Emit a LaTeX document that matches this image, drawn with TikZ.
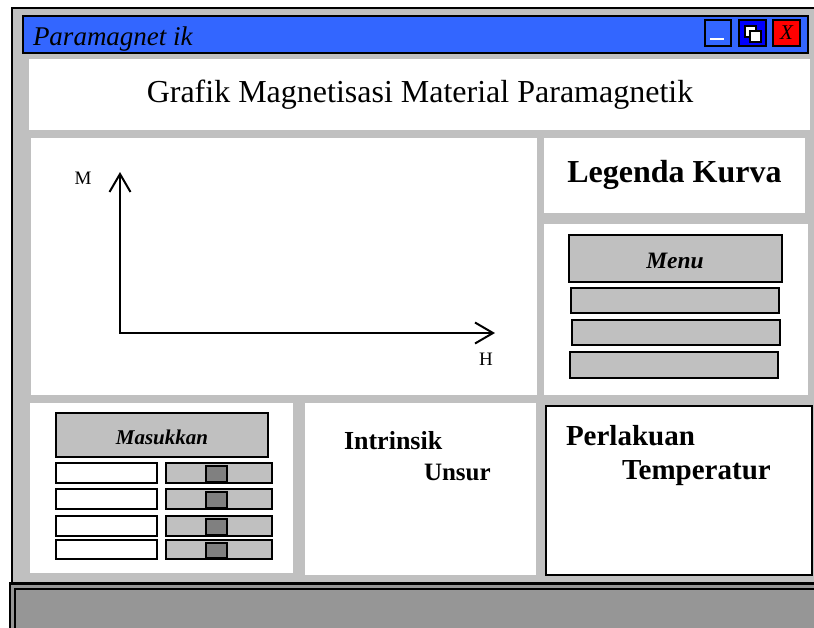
\documentclass[tikz,border=0pt]{standalone}
\usepackage{fontspec}
\setmainfont{Liberation Serif}
\usetikzlibrary{arrows.meta}
\definecolor{wingray}{HTML}{C0C0C0}
\definecolor{bargray}{HTML}{969696}
\definecolor{thumbgray}{HTML}{808080}
\definecolor{titleblue}{HTML}{3366FF}
\definecolor{pureblue}{HTML}{0000FF}
\definecolor{closered}{HTML}{FF0000}
\tikzset{
  panel/.style={fill=white,draw=none},
  btn/.style={fill=wingray,draw=black,line width=1.6pt},
  field/.style={fill=white,draw=black,line width=1.6pt},
  slider/.style={fill=wingray,draw=black,line width=1.6pt},
  thumb/.style={fill=thumbgray,draw=black,line width=1.4pt},
  axis/.style={line width=2pt,-{Straight Barb[length=18pt,width=21pt,line width=2pt]}},
  txt/.style={inner sep=0pt,outer sep=0pt},
}
\begin{document}
\begin{tikzpicture}[x=1pt,y=-1pt]
\useasboundingbox (0,0) rectangle (814,627);
\fill[white] (0,0) rectangle (814,627);
% window
\draw[fill=wingray,line width=2pt] (12,8) rectangle (830,640);
% title bar
\draw[fill=titleblue,line width=2pt] (23,16) rectangle (808,53);
\node[txt,anchor=base west] (wtitle) at (33,45) {\fontsize{27}{30}\selectfont\itshape Paramagnet ik};
% buttons
\draw[fill=titleblue,line width=1.6pt] (705,20) rectangle (731,46);
\draw[white,line width=2.2pt] (710,39) -- (724,39);
\draw[fill=pureblue,line width=1.6pt] (739,20) rectangle (766,46);
\draw[fill=white,line width=1.4pt] (745,26) rectangle (756,37);
\draw[fill=white,line width=1.4pt] (750,31) rectangle (761,42);
\draw[fill=closered,line width=1.6pt] (773,20) rectangle (800,46);
\node[txt] (xbtn) at (786.5,33) {\fontsize{21}{24}\selectfont\itshape X};
% header box
\fill[panel] (29,59) rectangle (810,130);
\node[txt,anchor=base] (header) at (420,102) {\fontsize{32}{36}\selectfont Grafik Magnetisasi Material Paramagnetik};
% graph panel
\fill[panel] (31,138) rectangle (537,395);
\coordinate (origin) at (120,333);
\coordinate (ytop) at (120,172);
\coordinate (xend) at (495,333);
\draw[axis] (origin) -- (ytop);
\draw[axis,line cap=rect] (origin) -- (xend);
\node[txt] (mlab) at (83,178) {\fontsize{19}{22}\selectfont M};
\node[txt] (hlab) at (486,359) {\fontsize{19}{22}\selectfont H};
% legend box
\fill[panel] (544,138) rectangle (805,213);
\node[txt,anchor=base] (legend) at (674.5,182) {\fontsize{32}{36}\selectfont\bfseries Legenda Kurva};
% menu panel
\fill[panel] (544,224) rectangle (808,395);
\draw[btn] (569,235) rectangle (782,282);
\node[txt,anchor=base] (menu) at (675,268) {\fontsize{23.5}{26}\selectfont\bfseries\itshape Menu};
\draw[btn] (571,288) rectangle (779,313);
\draw[btn] (572,320) rectangle (780,345);
\draw[btn] (570,352) rectangle (778,378);
% input panel
\fill[panel] (30,403) rectangle (293,573);
\draw[btn] (56,413) rectangle (268,457);
\node[txt,anchor=base] (masuk) at (162,444) {\fontsize{21}{24}\selectfont\bfseries\itshape Masukkan};
\foreach \ya/\yb in {463/483, 489/509, 516/536, 540/559}{
  \draw[field] (56,\ya) rectangle (157,\yb);
  \draw[slider] (166,\ya) rectangle (272,\yb);
  \draw[thumb] (206,\ya+3) rectangle (227,\yb-1);
}
% middle panel
\fill[panel] (305,403) rectangle (536,575);
\node[txt,anchor=base west] (intr) at (344,449) {\fontsize{26}{30}\selectfont\bfseries Intrinsik};
\node[txt,anchor=base west] (unsur) at (424,480) {\fontsize{25}{30}\selectfont\bfseries Unsur};
% right panel
\draw[fill=white,line width=2pt] (546,406) rectangle (812,575);
\node[txt,anchor=base west] (perl) at (566,445) {\fontsize{29}{32}\selectfont\bfseries Perlakuan};
\node[txt,anchor=base west] (temp) at (622,479) {\fontsize{29}{32}\selectfont\bfseries Temperatur};
% bottom bar
\draw[fill=bargray,line width=2.5pt] (10,583.5) rectangle (830,650);
\draw[fill=bargray,line width=2pt] (14.5,588.5) rectangle (830,650);
\end{tikzpicture}
\end{document}
